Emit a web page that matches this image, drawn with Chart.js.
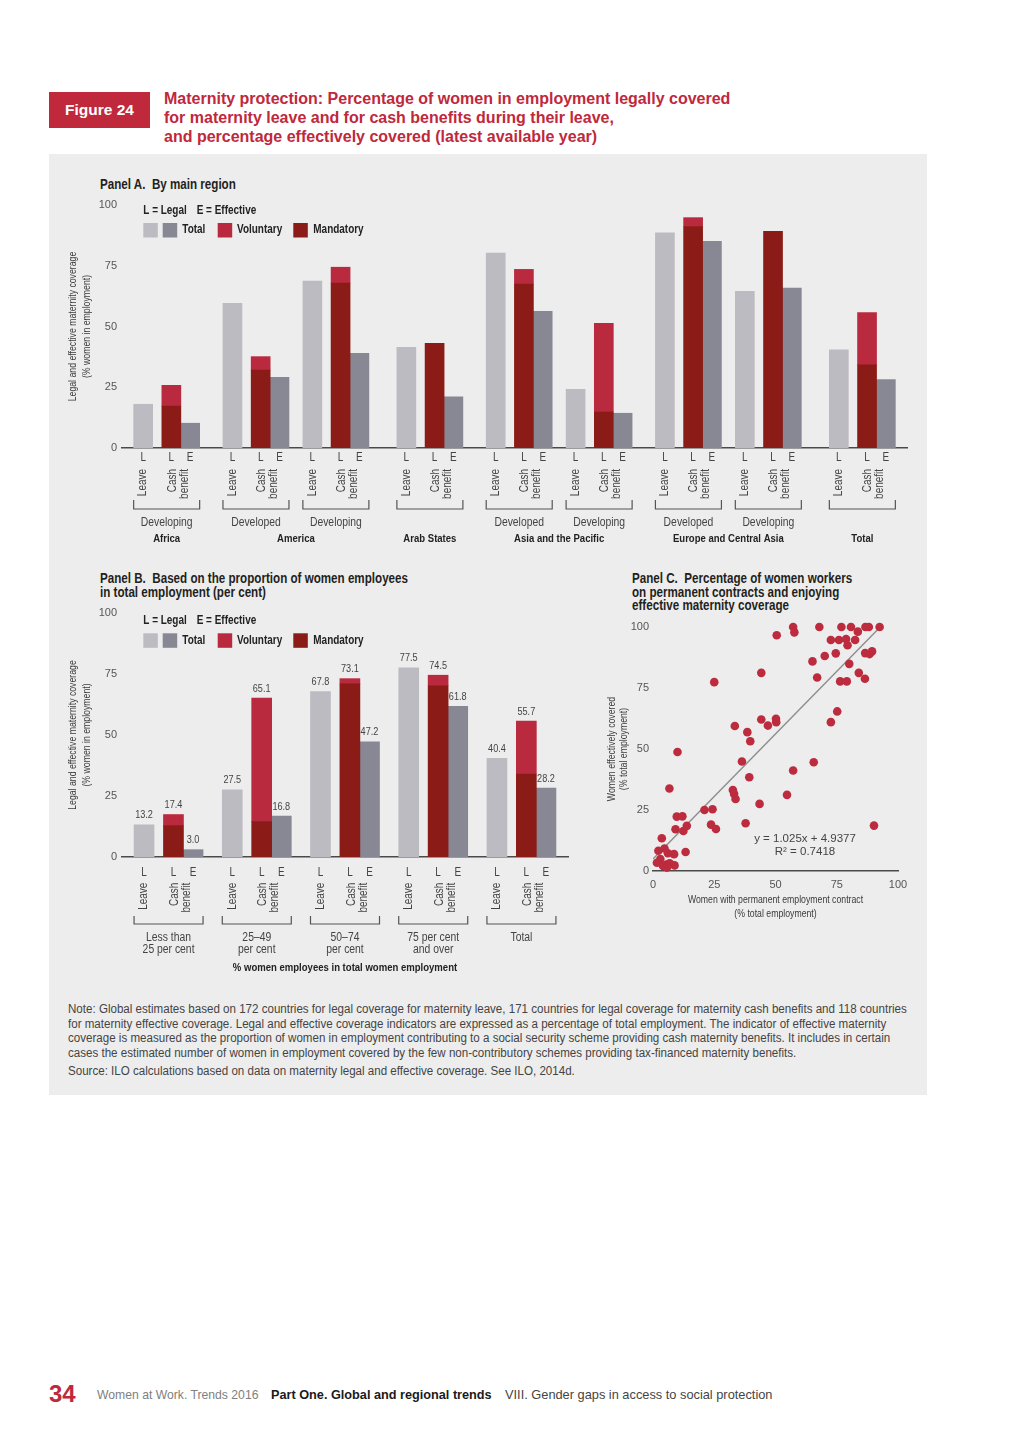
<!DOCTYPE html>
<html>
<head>
<meta charset="utf-8">
<script src="https://cdn.jsdelivr.net/npm/chart.js@4.4.1/dist/chart.umd.min.js"></script>
<style>
  body { margin: 0; width: 1024px; height: 1449px; position: relative; overflow: hidden; background: #fff;
         font-family: 'Liberation Sans', Arial, sans-serif; }
  .abs { position: absolute; white-space: nowrap; }
  .cond { transform: scaleX(0.83); transform-origin: 0 0; }
  #figTag { left: 49px; top: 92px; width: 101px; height: 36px; background: #c0283c; color: #fff;
            font: bold 15.5px 'Liberation Sans', sans-serif; display: flex; align-items: center; justify-content: center; }
  #figTitle { left: 164px; top: 89px; color: #c0283c; font: bold 16px/19px 'Liberation Sans', sans-serif; }
  #panel { left: 49px; top: 154px; width: 878px; height: 941px; background: #ededed; }
  .ptitle { font: bold 14px/14px 'Liberation Sans', sans-serif; color: #231f20; }
  .note { font: 12.5px/14.5px 'Liberation Sans', sans-serif; color: #444; transform: scaleX(0.926); transform-origin: 0 0; }
  canvas { position: absolute; }
  .foot { top: 1387px; font: 13px 'Liberation Sans', sans-serif; color: #808080; }
</style>
</head>
<body>
<div class="abs" id="figTag">Figure 24</div>
<div class="abs" id="figTitle">Maternity protection: Percentage of women in employment legally covered<br>for maternity leave and for cash benefits during their leave,<br>and percentage effectively covered (latest available year)</div>
<div class="abs" id="panel"></div>
<div class="abs ptitle cond" style="left:100px;top:177px">Panel A.&nbsp; By main region</div>
<div class="abs ptitle cond" style="left:100px;top:571px">Panel B.&nbsp; Based on the proportion of women employees<br>in total employment (per cent)</div>
<div class="abs ptitle cond" style="left:632px;top:572px;line-height:13.7px">Panel C.&nbsp; Percentage of women workers<br>on permanent contracts and enjoying<br>effective maternity coverage</div>

<canvas id="chartA" width="878" height="400" style="left:49px;top:154px"></canvas>
<canvas id="chartB" width="540" height="420" style="left:49px;top:560px"></canvas>
<canvas id="chartC" width="338" height="370" style="left:589px;top:560px"></canvas>

<div class="abs note" style="left:68px;top:1002px">Note: Global estimates based on 172 countries for legal coverage for maternity leave, 171 countries for legal coverage for maternity cash benefits and 118 countries<br>for maternity effective coverage. Legal and effective coverage indicators are expressed as a percentage of total employment. The indicator of effective maternity<br>coverage is measured as the proportion of women in employment contributing to a social security scheme providing cash maternity benefits. It includes in certain<br>cases the estimated number of women in employment covered by the few non-contributory schemes providing tax-financed maternity benefits.</div>
<div class="abs note" style="left:68px;top:1064px">Source: ILO calculations based on data on maternity legal and effective coverage. See ILO, 2014d.</div>

<div class="abs" style="left:49px;top:1380px;font:bold 24px 'Liberation Sans',sans-serif;color:#c0283c">34</div>
<div class="abs foot" style="left:97px;font-size:12.2px;top:1388px">Women at Work. Trends 2016</div>
<div class="abs foot" style="left:271px;color:#1a1a1a;font-weight:bold;font-size:12.7px;top:1388px">Part One. Global and regional trends</div>
<div class="abs foot" style="left:505px;color:#444;font-size:12.8px">VIII. Gender gaps in access to social protection</div>

<script>
// ---------- data ----------
// Panel A: by main region (one entry per sub-group)
const aGroupNames = ['Developing', 'Developed', 'Developing', '', 'Developed', 'Developing', 'Developed', 'Developing', ''];
const aRegions = ['Africa', 'America', 'America', 'Arab States', 'Asia and the Pacific', 'Asia and the Pacific',
                  'Europe and Central Asia', 'Europe and Central Asia', 'Total'];
const aLeave = [18.0, 59.5, 68.7, 41.4, 80.2, 24.1, 88.5, 64.5, 40.4];
const aCashMandatory = [17.3, 32.1, 67.9, 43.1, 67.5, 14.8, 91.1, 89.2, 34.2];
const aCashTotal = [25.8, 37.6, 74.4, 43.1, 73.5, 51.3, 94.8, 89.2, 55.7];
const aEffective = [10.2, 29.1, 39.0, 21.1, 56.2, 14.3, 85.0, 65.8, 28.2];

// Panel B: by share of women employees
const bGroupNames = [['Less than', '25 per cent'], ['25–49', 'per cent'], ['50–74', 'per cent'], ['75 per cent', 'and over'], ['Total']];
const bLeave = [13.2, 27.5, 67.8, 77.5, 40.4];
const bCashMandatory = [12.9, 14.5, 71.1, 70.2, 34.0];
const bCashTotal = [17.4, 65.1, 73.1, 74.5, 55.7];
const bEffective = [3.0, 16.8, 47.2, 61.8, 28.2];

const yTicks = [0, 25, 50, 75, 100];
const xTicksC = [0, 25, 50, 75, 100];

// Panel C: permanent contracts vs effective coverage
const cPermanent = [25.0, 44.2, 50.5, 57.2, 57.7, 67.9, 76.9, 80.8, 83.6, 86.7, 88.1, 92.5,
                    72.6, 75.9, 78.8, 82.5, 79.4, 74.6, 70.1, 65.1, 80.1, 86.6, 88.4, 89.4,
                    67.0, 76.4, 79.1, 84.0, 86.5, 75.2, 72.6, 44.2, 50.2, 50.3, 46.9, 33.4, 38.5, 39.7,
                    10.0, 36.3, 39.3, 65.6, 57.2, 32.6, 33.1, 33.7, 54.7, 43.5, 6.7,
                    21.0, 24.3, 23.7, 25.7, 37.8, 90.2, 9.7, 12.0, 9.2, 12.4, 13.8, 13.3,
                    3.6, 2.2, 4.7, 6.1, 8.6, 3.0, 1.6, 4.1, 5.5, 6.8, 5.7, 8.8];
const cCovered = [77.4, 81.2, 96.6, 100, 97.8, 100, 100, 100, 98.1, 100, 100, 100,
                  94.7, 94.7, 95.1, 94.7, 92.5, 89.2, 88.1, 85.9, 84.9, 89.3, 88.9, 90.0,
                  79.3, 77.7, 77.7, 81.2, 78.8, 65.4, 61.0, 62.1, 62.4, 61.0, 59.6, 59.4, 56.9, 53.2,
                  48.8, 44.9, 38.4, 44.6, 41.2, 33.2, 31.6, 29.5, 31.2, 27.5, 33.8,
                  25.0, 25.3, 19.0, 17.2, 19.6, 18.6, 22.3, 22.4, 17.1, 16.4, 18.5, 7.8,
                  13.4, 8.3, 9.2, 7.3, 6.9, 4.9, 3.4, 2.1, 2.6, 3.2, 1.4, 2.3];
const trendSlope = 1.025;
const trendIntercept = 4.9377;

// ---------- styles ----------
const COL = {
  leave: '#bdbbc2', eff: '#878894', vol: '#ba2a3e', mand: '#8b1b16',
  axis: '#4a4a4a', text: '#3a3a3a', tick: '#555', dot: '#bc2b3e', trend: '#8d8d8d'
};
const SANS = "'Liberation Sans', Arial, sans-serif";
const SQ = 0.83; // horizontal squeeze, stands in for the condensed face of the original
Chart.defaults.font.family = SANS;
Chart.defaults.color = COL.tick;

// each group takes 3 bar slots on a fine category grid: Leave, Cash (6 later), Effective (4 after cash)
function slotLayout(nGroups, lead, gaps) {
  const leave = [], cash = [], eff = [];
  let pos = lead;
  for (let i = 0; i < nGroups; i++) {
    leave.push(pos);
    cash.push(pos + 6);
    eff.push(pos + 10);
    pos += 10 + (gaps[i] || 0);
  }
  return { leave, cash, eff };
}

function spread(n, idx, vals) {
  const arr = new Array(n).fill(null);
  idx.forEach((s, i) => { arr[s] = vals[i]; });
  return arr;
}

function sqText(ctx, text, x, y, sx) {
  ctx.save();
  ctx.translate(x, y);
  ctx.scale(sx || SQ, 1);
  ctx.fillText(text, 0, 0);
  ctx.restore();
}

function rotText(ctx, text, x, y, align) {
  ctx.save();
  ctx.translate(x, y);
  ctx.rotate(-Math.PI / 2);
  ctx.scale(SQ, 1);
  ctx.textAlign = align;
  ctx.textBaseline = 'middle';
  ctx.fillText(text, 0, 0);
  ctx.restore();
}

function drawYTitle(ctx, area, dx, lines) {
  ctx.font = '10.5px ' + SANS;
  ctx.fillStyle = COL.text;
  const yc = (area.top + area.bottom) / 2;
  lines.forEach((t, k) => rotText(ctx, t, area.left + dx[k], yc, 'center'));
}

// labels, brackets, legend for panels A and B
function barPanelText(p) {
  return {
    id: 'panelText' + p.id,
    afterDraw(chart) {
      const ctx = chart.ctx, area = chart.chartArea;
      const xs = chart.scales.x, ys = chart.scales.y;
      const px = i => xs.getPixelForValue(i);
      const half = p.barW / 2;
      ctx.save();

      drawYTitle(ctx, area, [-48.7, -34.7], ['Legal and effective maternity coverage', '(% women in employment)']);

      // legend
      const lx = area.left, ty = area.top + p.legendTextDy, sy = area.top + p.legendSwatchDy;
      ctx.font = 'bold 12px ' + SANS;
      ctx.fillStyle = '#222';
      ctx.textBaseline = 'middle';
      ctx.textAlign = 'left';
      sqText(ctx, 'L = Legal', lx + 21.3, ty);
      sqText(ctx, 'E = Effective', lx + 74.7, ty);
      [[21.3, COL.leave], [40.7, COL.eff], [95.7, COL.vol], [171.3, COL.mand]].forEach(([dx, c]) => {
        ctx.fillStyle = c;
        ctx.fillRect(lx + dx, sy - 7, 14.5, 14.5);
      });
      ctx.fillStyle = '#222';
      sqText(ctx, 'Total', lx + 60.3, sy);
      sqText(ctx, 'Voluntary', lx + 115, sy);
      sqText(ctx, 'Mandatory', lx + 191.3, sy);

      const bottom = area.bottom;
      const groupBounds = [];
      p.slots.leave.forEach((ls, i) => {
        const xl = px(ls), xc = px(p.slots.cash[i]), xe = px(p.slots.eff[i]);
        const mid = (xc + xe) / 2;
        const x0 = xl - half, x1 = xe + half;
        groupBounds.push([x0, x1]);

        ctx.fillStyle = '#444';
        ctx.font = '12px ' + SANS;
        ctx.textAlign = 'center';
        ctx.textBaseline = 'middle';
        sqText(ctx, 'L', xl, bottom + p.letterDy);
        sqText(ctx, 'L', xc, bottom + p.letterDy);
        sqText(ctx, 'E', xe, bottom + p.letterDy);

        rotText(ctx, 'Leave', xl, bottom + p.rotDy, 'right');
        rotText(ctx, 'Cash', mid - 8.5, bottom + p.rotDy, 'right');
        rotText(ctx, 'benefit', mid + 3.5, bottom + p.rotDy, 'right');

        // bracket under the group
        const by = bottom + p.bracketDy;
        ctx.strokeStyle = '#555';
        ctx.lineWidth = 1.2;
        ctx.beginPath();
        ctx.moveTo(x0, by - p.bracketTick);
        ctx.lineTo(x0, by);
        ctx.lineTo(x1, by);
        ctx.lineTo(x1, by - p.bracketTick);
        ctx.stroke();

        ctx.fillStyle = '#444';
        ctx.font = '12.5px ' + SANS;
        ctx.textAlign = 'center';
        p.groups[i].forEach((t, k) => sqText(ctx, t, (x0 + x1) / 2, bottom + p.groupDy + k * p.groupLH));

        if (p.valueLabels) {
          ctx.font = '11px ' + SANS;
          ctx.fillStyle = '#444';
          ctx.textBaseline = 'bottom';
          [[xl, p.leave[i]], [xc, p.total[i]], [xe, p.eff[i]]].forEach(([x, v]) => {
            sqText(ctx, v.toFixed(1), x, ys.getPixelForValue(v) - 4);
          });
          ctx.textBaseline = 'middle';
        }
      });

      // region names spanning consecutive groups
      if (p.regions) {
        ctx.font = 'bold 11.5px ' + SANS;
        ctx.fillStyle = '#222';
        let start = 0;
        for (let i = 1; i <= p.regions.length; i++) {
          if (i === p.regions.length || p.regions[i] !== p.regions[start]) {
            const cx = (groupBounds[start][0] + groupBounds[i - 1][1]) / 2;
            sqText(ctx, p.regions[start], cx, bottom + p.regionDy);
            start = i;
          }
        }
      }
      if (p.axisTitle) {
        ctx.font = 'bold 11.5px ' + SANS;
        ctx.fillStyle = '#222';
        sqText(ctx, p.axisTitle, (area.left + area.right) / 2, bottom + p.axisTitleDy);
      }
      ctx.restore();
    }
  };
}

function makeBarChart(p) {
  const n = p.n;
  const vol = p.total.map((t, i) => (t - p.mand[i] > 0.05 ? +(t - p.mand[i]).toFixed(1) : null));
  const common = { grouped: false, barThickness: p.barW, borderWidth: 0 };
  return new Chart(document.getElementById(p.id), {
    type: 'bar',
    data: {
      labels: new Array(n).fill(''),
      datasets: [
        { label: 'Leave', data: spread(n, p.slots.leave, p.leave), backgroundColor: COL.leave, stack: 'leave', ...common },
        { label: 'Mandatory', data: spread(n, p.slots.cash, p.mand), backgroundColor: COL.mand, stack: 'cash', ...common },
        { label: 'Voluntary', data: spread(n, p.slots.cash, vol), backgroundColor: COL.vol, stack: 'cash', ...common },
        { label: 'Effective', data: spread(n, p.slots.eff, p.eff), backgroundColor: COL.eff, stack: 'eff', ...common }
      ]
    },
    options: {
      responsive: false,
      animation: false,
      events: [],
      layout: { padding: p.padding },
      plugins: { legend: { display: false }, tooltip: { enabled: false } },
      scales: {
        x: {
          stacked: true,
          grid: { display: false, drawTicks: false },
          ticks: { display: false },
          border: { display: true, color: COL.axis, width: 1.5 },
          afterFit: s => { s.height = 0; }
        },
        y: {
          stacked: true, min: 0, max: 100,
          grid: { display: false, drawTicks: false },
          border: { display: false },
          ticks: { color: COL.tick, padding: 5, font: { size: 11 } },
          afterBuildTicks: s => { s.ticks = yTicks.map(v => ({ value: v })); },
          afterFit: s => { s.width = p.yAxisW; }
        }
      }
    },
    plugins: [barPanelText(p)]
  });
}

const panelA = {
  id: 'chartA', n: 167, slots: slotLayout(9, 4, [9, 7, 10, 9, 7, 9, 7, 10]),
  leave: aLeave, mand: aCashMandatory, total: aCashTotal, eff: aEffective,
  groups: aGroupNames.map(g => (g ? [g] : [])), regions: aRegions,
  barW: 19, yAxisW: 73, padding: { left: 0, right: 20, top: 51, bottom: 106 },
  letterDy: 10, rotDy: 21, bracketDy: 61, bracketTick: 9, groupDy: 74.7, groupLH: 11.6, regionDy: 91.3,
  legendTextDy: 6, legendSwatchDy: 25, valueLabels: false
};
const panelB = {
  id: 'chartB', n: 91, slots: slotLayout(5, 4, [8, 8, 8, 8]),
  leave: bLeave, mand: bCashMandatory, total: bCashTotal, eff: bEffective,
  groups: bGroupNames, axisTitle: '% women employees in total women employment', axisTitleDy: 111.3,
  barW: 20, yAxisW: 73, padding: { left: 0, right: 21, top: 53, bottom: 123 },
  letterDy: 15.7, rotDy: 25.7, bracketDy: 67, bracketTick: 8, groupDy: 80.7, groupLH: 11.6,
  legendTextDy: 8, legendSwatchDy: 27.3, valueLabels: true
};

makeBarChart(panelA);
makeBarChart(panelB);

// ---------- Panel C ----------
const trendEnd = (100 - trendIntercept) / trendSlope;
new Chart(document.getElementById('chartC'), {
  data: {
    datasets: [
      {
        type: 'scatter', label: 'Countries', order: 1,
        data: cPermanent.map((x, i) => ({ x, y: cCovered[i] })),
        backgroundColor: COL.dot, borderWidth: 0, pointRadius: 4.3, clip: false
      },
      {
        type: 'line', label: 'Trend', order: 2,
        data: [{ x: 0, y: trendIntercept }, { x: trendEnd, y: trendSlope * trendEnd + trendIntercept }],
        borderColor: COL.trend, borderWidth: 1.4, pointRadius: 0, fill: false
      }
    ]
  },
  options: {
    responsive: false,
    animation: false,
    events: [],
    layout: { padding: { left: 0, right: 29, top: 67, bottom: 0 } },
    plugins: { legend: { display: false }, tooltip: { enabled: false } },
    scales: {
      x: {
        type: 'linear', min: 0, max: 100,
        grid: { display: false, drawTicks: false },
        border: { display: true, color: COL.axis, width: 1.5 },
        ticks: { color: COL.tick, padding: 7, font: { size: 11 } },
        afterBuildTicks: s => { s.ticks = xTicksC.map(v => ({ value: v })); },
        afterFit: s => { s.height = 59; }
      },
      y: {
        type: 'linear', min: 0, max: 100,
        grid: { display: false, drawTicks: false },
        border: { display: false },
        ticks: { color: COL.tick, padding: 4, font: { size: 11 } },
        afterBuildTicks: s => { s.ticks = yTicks.map(v => ({ value: v })); },
        afterFit: s => { s.width = 64; }
      }
    }
  },
  plugins: [{
    id: 'panelCText',
    afterDraw(chart) {
      const ctx = chart.ctx, area = chart.chartArea;
      ctx.save();
      drawYTitle(ctx, area, [-41, -29], ['Women effectively covered', '(% total employment)']);
      ctx.font = '10.5px ' + SANS;
      ctx.textAlign = 'center';
      ctx.textBaseline = 'middle';
      const cx = (area.left + area.right) / 2;
      sqText(ctx, 'Women with permanent employment contract', cx, area.bottom + 29);
      sqText(ctx, '(% total employment)', cx, area.bottom + 43.3);
      ctx.font = '11.5px ' + SANS;
      ctx.fillStyle = '#444';
      ctx.fillText('y = ' + trendSlope.toFixed(3) + 'x + ' + trendIntercept.toFixed(4), area.left + 152, area.bottom - 31.7);
      ctx.fillText('R² = 0.7418', area.left + 152, area.bottom - 19.3);
      ctx.restore();
    }
  }]
});
</script>
</body>
</html>
